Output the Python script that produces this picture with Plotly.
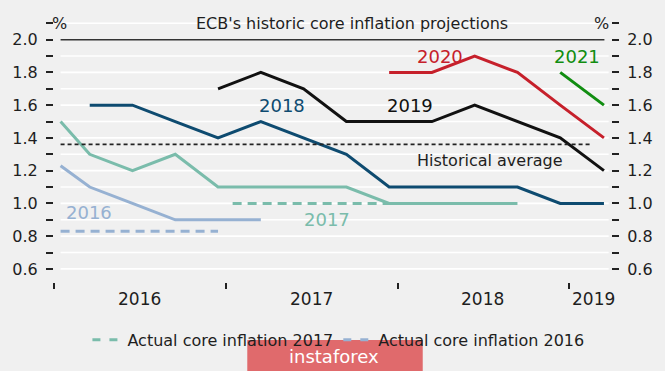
import plotly.graph_objects as go

# ---- data ----
proj_dates = ["2016-01-15", "2016-03-17", "2016-06-16", "2016-09-15", "2016-12-15",
              "2017-03-16", "2017-06-15", "2017-09-14", "2017-12-14",
              "2018-03-15", "2018-06-14", "2018-09-13", "2018-12-13", "2019-03-16"]
proj_2016 = [1.23, 1.1, 1.0, 0.9, 0.9, 0.9]                                   # from index 0
proj_2017 = [1.5, 1.3, 1.2, 1.3, 1.1, 1.1, 1.1, 1.1, 1.0, 1.0, 1.0, 1.0]      # from index 0
proj_2018 = [1.6, 1.6, 1.5, 1.4, 1.5, 1.4, 1.3, 1.1, 1.1, 1.1, 1.1, 1.0, 1.0]  # from index 1
proj_2019 = [1.7, 1.8, 1.7, 1.5, 1.5, 1.5, 1.6, 1.5, 1.4, 1.2]                # from index 4
proj_2020 = [1.8, 1.8, 1.9, 1.8, 1.6, 1.4]                                    # from index 8
proj_2021 = [1.8, 1.6]                                                        # from index 12

actual_2016_dates = ["2016-01-15", "2016-12-15"]
actual_2016 = [0.83, 0.83]
actual_2017_dates = ["2017-01-15", "2017-12-14"]
actual_2017 = [1.0, 1.0]
hist_avg_dates = ["2016-01-15", "2019-02-14"]
hist_avg = [1.36, 1.36]

y_ticks = [0.6, 0.7, 0.8, 0.9, 1.0, 1.1, 1.2, 1.3, 1.4, 1.5, 1.6, 1.7, 1.8, 1.9, 2.0, 2.1]
y_ticktext = ["0.6", "", "0.8", "", "1.0", "", "1.2", "", "1.4", "", "1.6", "", "1.8", "", "2.0", ""]
year_ticks = ["2016-01-01", "2017-01-01", "2018-01-01", "2019-01-01"]
year_labels = ["2016", "2017", "2018", "2019"]
year_label_pos = ["2016-07-01", "2017-07-01", "2018-07-01", "2019-02-22"]

C_LB = "#96b1d2"
C_TEAL = "#7abcab"
C_DB = "#0e4b70"
C_BLK = "#111111"
C_RED = "#c6202b"
C_GRN = "#118d11"
BG = "#f0f0f0"
FONT = "DejaVu Sans"
TXT = "#1e1e1e"

fig = go.Figure()

def line(x, y, color, name="", dash="solid", width=3, legend=False, yaxis="y"):
    fig.add_trace(go.Scatter(x=x, y=y, mode="lines", name=name, showlegend=legend,
                             line=dict(color=color, width=width, dash=dash),
                             hoverinfo="skip", yaxis=yaxis))

line(hist_avg_dates, hist_avg, "#222222", dash="4px,3px", width=1.8, yaxis="y2")
line(actual_2016_dates, actual_2016, C_LB, dash="9px,6px", width=3)
line(actual_2017_dates, actual_2017, C_TEAL, dash="9px,6px", width=3)
line(proj_dates[0:6], proj_2016, C_LB)
line(proj_dates[0:12], proj_2017, C_TEAL)
line(proj_dates[1:14], proj_2018, C_DB)
line(proj_dates[4:14], proj_2019, C_BLK)
line(proj_dates[8:14], proj_2020, C_RED)
line(proj_dates[12:14], proj_2021, C_GRN)

# legend-only entries
fig.add_trace(go.Scatter(x=[None], y=[None], mode="lines", name="Actual core inflation 2017",
                         line=dict(color=C_TEAL, width=3, dash="8px,9px"), showlegend=True))
fig.add_trace(go.Scatter(x=[None], y=[None], mode="lines", name="Actual core inflation 2016",
                         line=dict(color=C_LB, width=3, dash="8px,9px"), showlegend=True))

shapes = []
for v in y_ticks:
    if v == 2.0:
        continue
    shapes.append(dict(type="line", xref="x", yref="y", x0="2016-01-15", x1="2019-03-26",
                       y0=v, y1=v, line=dict(color="white", width=1.6), layer="below"))
shapes.append(dict(type="line", xref="x", yref="y", x0="2016-01-15", x1="2019-03-17",
                   y0=2.0, y1=2.0, line=dict(color="#333333", width=1.5), layer="below"))
# watermark box
shapes.append(dict(type="rect", xref="paper", yref="paper", x0=0.347, x1=0.662,
                   y0=-0.345, y1=-0.221, fillcolor="#e06a6c", line=dict(width=0), layer="above"))
fig.update_layout(shapes=shapes)

ann = []
def text(x, y, s, color=TXT, size=15, xref="x", yref="y", xanchor="center", yanchor="middle",
         xshift=0):
    ann.append(dict(x=x, y=y, xref=xref, yref=yref, text=s, showarrow=False,
                    font=dict(family=FONT, size=size, color=color),
                    xanchor=xanchor, yanchor=yanchor, xshift=xshift))

text(0.535, 0.985, "ECB's historic core inflation projections", xref="paper", yref="paper", size=16)
text("2016-01-03", 2.1, "%", xanchor="left", size=16, xshift=-5)
text("2019-03-20", 2.1, "%", xanchor="right", size=16, xshift=5)
for p, s in zip(year_label_pos, year_labels):
    text(p, -0.066, s, yref="paper", size=17)
text("2016-03-16", 0.945, "2016", color=C_LB, size=18)
text("2017-08-04", 0.90, "2017", color=C_TEAL, size=18)
text("2017-05-01", 1.6, "2018", color=C_DB, size=18)
text("2018-01-28", 1.6, "2019", color=C_BLK, size=18)
text("2018-04-01", 1.895, "2020", color=C_RED, size=18)
text("2019-01-17", 1.895, "2021", color=C_GRN, size=18)
text("2018-07-17", 1.265, "Historical average", size=16)
text(0.503, -0.284, "instaforex", color="white", size=18, xref="paper", yref="paper")
fig.update_layout(annotations=ann)

axis_y = dict(range=[0.52, 2.12], tickvals=y_ticks, ticktext=y_ticktext, ticks="outside",
              ticklen=7, tickwidth=1.5, tickcolor="#222222", showgrid=False, zeroline=False,
              showline=False, tickfont=dict(family=FONT, size=16, color=TXT),
              ticklabelstandoff=5)
fig.update_layout(
    width=665, height=371,
    margin=dict(l=50, r=50, t=20, b=89),
    paper_bgcolor=BG, plot_bgcolor=BG,
    font=dict(family=FONT, color=TXT),
    xaxis=dict(type="date", range=["2016-01-01", "2019-03-31"], tickvals=year_ticks,
               ticktext=["", "", "", ""], ticks="outside", ticklen=6, tickwidth=1.5,
               tickcolor="#222222", showgrid=False, zeroline=False, showline=False),
    yaxis=axis_y,
    yaxis2=dict(axis_y, overlaying="y", side="right", matches="y"),
    legend=dict(orientation="h", x=0.06, xanchor="left", y=-0.221, yanchor="middle",
                bgcolor="rgba(0,0,0,0)", font=dict(family=FONT, size=16, color=TXT),
                itemwidth=30),
    showlegend=True,
    hovermode=False,
)

fig.write_html("out.html", config={"displayModeBar": False},
               post_script="document.body.style.margin='0';")
